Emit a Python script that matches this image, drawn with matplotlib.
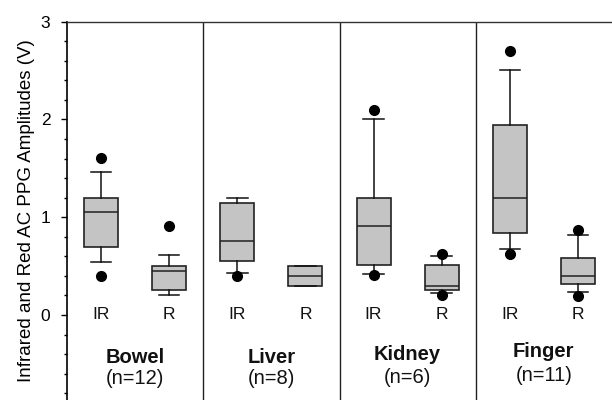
import matplotlib
matplotlib.use("Agg")
import matplotlib.pyplot as plt
from matplotlib.ticker import MultipleLocator

plt.rcParams['font.family'] = ['Liberation Sans', 'DejaVu Sans']

groups = ["Bowel", "Liver", "Kidney", "Finger"]
group_n = ["(n=12)", "(n=8)", "(n=6)", "(n=11)"]
series = ["IR", "R", "IR", "R", "IR", "R", "IR", "R"]

q1 = [0.70, 0.255, 0.55, 0.30, 0.51, 0.26, 0.84, 0.32]
med = [1.05, 0.45, 0.76, 0.40, 0.915, 0.30, 1.20, 0.40]
q3 = [1.20, 0.50, 1.15, 0.50, 1.20, 0.51, 1.94, 0.585]
whislo = [0.54, 0.20, 0.43, 0.30, 0.415, 0.22, 0.67, 0.23]
whishi = [1.46, 0.61, 1.20, 0.50, 2.00, 0.60, 2.51, 0.82]
fliers = [[1.61, 0.40], [0.91], [0.40], [], [2.10, 0.41], [0.62, 0.20], [2.70, 0.62], [0.87, 0.19]]

fig = plt.figure(figsize=(6.12, 4.0), dpi=100)
ax = fig.add_axes([67 / 612, 0.0, 545 / 612, 1 - 21.7 / 400])

stats = []
for i in range(len(series)):
    stats.append(dict(med=med[i], q1=q1[i], q3=q3[i], whislo=whislo[i],
                      whishi=whishi[i], fliers=fliers[i]))

ax.bxp(stats, positions=range(len(series)), widths=0.5, patch_artist=True,
       showfliers=True,
       boxprops=dict(facecolor='#c4c4c4', edgecolor='#222222', linewidth=1.2),
       medianprops=dict(color='#222222', linewidth=1.1),
       whiskerprops=dict(color='#111111', linewidth=1.1),
       capprops=dict(color='#111111', linewidth=1.1),
       capwidths=0.3,
       flierprops=dict(marker='o', markerfacecolor='black', markeredgecolor='black',
                       markersize=7, linestyle='none'))

ax.set_xlim(-0.5, 7.5)
ax.set_ylim(-0.87, 3)

for xd in [1.5, 3.5, 5.5]:
    ax.axvline(xd, color='#222222', linewidth=1.0)

for i, s in enumerate(series):
    ax.text(i, 0, s, ha='center', va='center', fontsize=12.5, color='#111111')

label_y = [-0.44, -0.44, -0.40, -0.37]
n_y = [-0.645, -0.645, -0.635, -0.615]
for g in range(len(groups)):
    xc = 2 * g + 0.5
    ax.text(xc, label_y[g], groups[g], ha='center', va='center', fontsize=14.5,
            fontweight='bold', color='#111111')
    ax.text(xc, n_y[g], group_n[g], ha='center', va='center', fontsize=14.5,
            color='#111111')

ax.set_xticks([])
ax.yaxis.set_major_locator(MultipleLocator(1))
ax.yaxis.set_minor_locator(MultipleLocator(0.2))
ax.set_yticks([0, 1, 2, 3])
ax.tick_params(axis='y', which='major', direction='out', length=4, width=1,
               labelsize=12.5, pad=8)
ax.tick_params(axis='y', which='minor', direction='out', length=2.5, width=1)
ax.spines['right'].set_visible(False)
ax.spines['bottom'].set_visible(False)
ax.spines['left'].set_linewidth(1.2)
ax.spines['top'].set_linewidth(1.0)
ax.spines['top'].set_color('#333333')
ax.set_ylabel("Infrared and Red AC PPG Amplitudes (V)", fontsize=13.5)
ax.yaxis.set_label_coords((27 - 67) / 545, 0.5)
ax.yaxis.label.set_va('center')

fig.savefig("out.png", dpi=100)
